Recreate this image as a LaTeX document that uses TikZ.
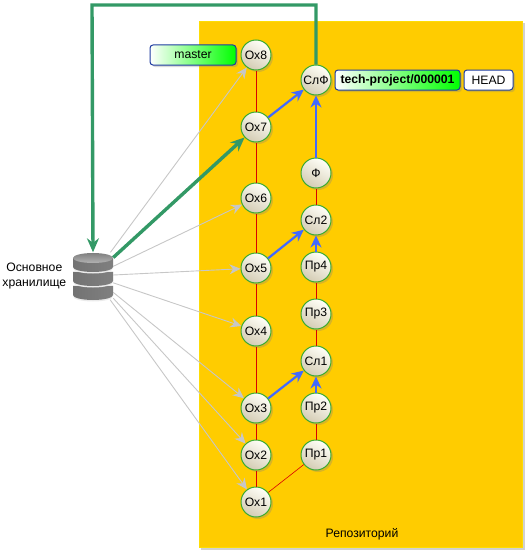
\documentclass[tikz,border=0pt]{standalone}
\usepackage{fontspec}
\setmainfont{Liberation Sans}
\usetikzlibrary{arrows.meta, positioning, shadows}
\definecolor{repoyellow}{RGB}{255,204,0}
\definecolor{syncgreen}{RGB}{51,153,102}
\definecolor{mergeblue}{RGB}{65,105,255}
\definecolor{ringgreen}{RGB}{60,170,50}
\definecolor{boxblue}{RGB}{30,60,160}
\definecolor{commitlow}{RGB}{212,204,180}

\begin{document}
\begin{tikzpicture}[
    x=1pt, y=-1pt,
    font=\fontsize{12.2}{14}\selectfont,
    commit/.style={
        circle, draw=ringgreen, line width=1pt,
        minimum size=30pt, inner sep=0pt,
        top color=white!97!yellow, bottom color=commitlow, shading angle=-30,
        drop shadow={shadow xshift=2pt, shadow yshift=-2pt, opacity=0.3}
    },
    branch/.style={
        rectangle, draw=boxblue, line width=1pt, rounded corners=3pt,
        text centered, minimum height=20pt, inner sep=0pt,
        left color=white, right color=green,
        drop shadow={shadow xshift=2pt, shadow yshift=-2pt, opacity=0.3}
    },
    line/.style={draw=red!85!black, line width=0.6pt},
    fetch/.style={-{Stealth[length=11pt, width=10pt]}, draw=black!22, line width=0.9pt},
    merge/.style={-{Stealth[length=12pt, width=11pt]}, draw=mergeblue, line width=2.2pt},
    sync/.style={-{Stealth[length=14pt, width=12pt]}, draw=syncgreen, line width=3.4pt},
    slice/.style={left color=black!55, middle color=black!15, right color=black!50},
]
\useasboundingbox (0,0) rectangle (528,551);
\fill[black!30, opacity=0.6] (201,23) rectangle (525,550);
\fill[yellow!80!orange] (199,21) rectangle (523,548);
\fill[repoyellow] (200,22) rectangle (522,547);
\node (repo) at (362,534) {Репозиторий};

% main line
\node[commit] (ox1) at (256,502) {Ох1};
\node[commit, above=16pt of ox1] (ox2) {Ох2};
\node[commit, above=16pt of ox2] (ox3) {Ох3};
\node[commit, above=46pt of ox3] (ox4) {Ох4};
\node[commit, above=32pt of ox4] (ox5) {Ох5};
\node[commit, above=39pt of ox5] (ox6) {Ох6};
\node[commit, above=40pt of ox6] (ox7) {Ох7};
\node[commit, above=41pt of ox7] (ox8) {Ох8};

% project line
\node[commit] (pr1) at (316,455) {Пр1};
\node[commit, above=16pt of pr1] (pr2) {Пр2};
\node[commit, above=16pt of pr2] (sl1) {Сл1};
\node[commit, above=16pt of sl1] (pr3) {Пр3};
\node[commit, above=16pt of pr3] (pr4) {Пр4};
\node[commit, above=16pt of pr4] (sl2) {Сл2};
\node[commit, above=16pt of sl2] (fin) {Ф};
\node[commit, above=62pt of fin] (slf) {СлФ};

\node[branch, minimum width=86pt, left=4pt of ox8] (master) {master};
\node[branch, minimum width=125pt, right=3pt of slf, font=\fontsize{12.2}{14}\selectfont\bfseries] (tech) {tech-project/000001};
\node[branch, minimum width=49pt, right=3pt of tech, left color=white, right color=white] (head) {HEAD};

\node[minimum width=40pt, minimum height=47pt, inner sep=0pt] (db) at (93,276) {};
\node[left=3pt of db, align=center, font=\fontsize{12.2}{15}\selectfont] (dblabel) {Основное\\хранилище};

\foreach \a/\b in {ox1/ox2, ox2/ox3, ox3/ox4, ox4/ox5, ox5/ox6, ox6/ox7, ox7/ox8,
                   ox1/pr1, pr1/pr2, sl1/pr3, pr3/pr4, sl2/fin}
  \draw[line] (\a) -- (\b);
\foreach \c in {ox1, ox2, ox3, ox4, ox5, ox6, ox8}
  \draw[fetch] (db) -- (\c);
\draw[sync] (db) -- (ox7);
\draw[merge] (ox3) -- (sl1);
\draw[merge] (ox5) -- (sl2);
\draw[merge] (ox7) -- (slf);
\draw[merge] (pr2) -- (sl1);
\draw[merge] (pr4) -- (sl2);
\draw[merge] (fin) -- (slf);
\coordinate (top) at (92,5);
\draw[sync] (slf.north) |- (top) -- (db.north);

% storage icon
\foreach \t/\h in {286/9, 272/9, 258/9} {
  \fill[black!8] (73,\t-1) -- (73,\t+\h+1.5) arc[start angle=180, end angle=0, x radius=20, y radius=5]
    -- (113,\t-1) -- cycle;
  \shade[slice] (73,\t) -- (73,\t+\h) arc[start angle=180, end angle=0, x radius=20, y radius=5]
    -- (113,\t) -- cycle;
}
\shade[top color=black!50, bottom color=black!30] (93,258) ellipse[x radius=20, y radius=5];
\end{tikzpicture}
\end{document}
